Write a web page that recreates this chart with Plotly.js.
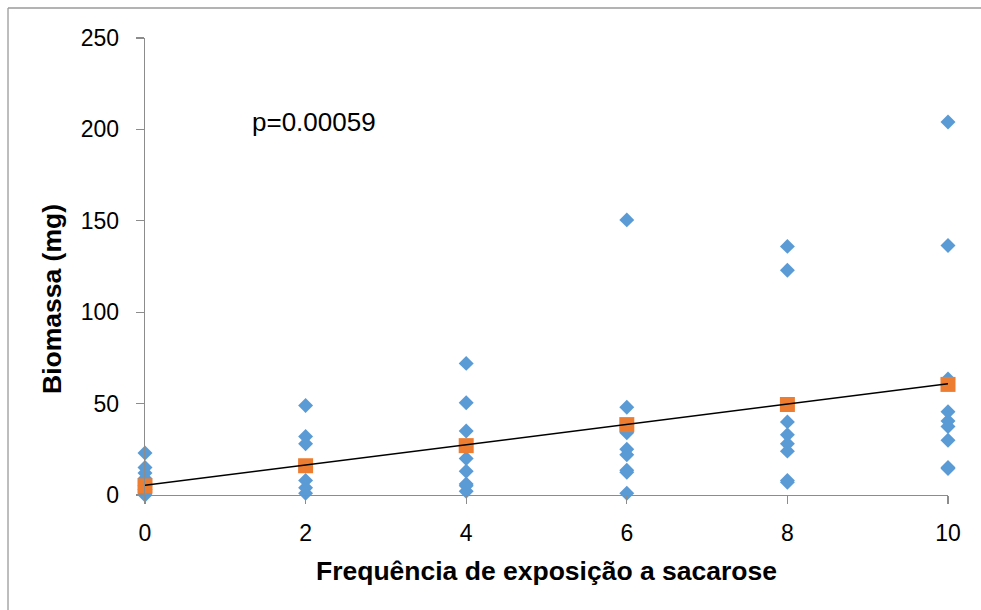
<!DOCTYPE html>
<html>
<head>
<meta charset="utf-8">
<script src="https://cdn.plot.ly/plotly-3.0.1.min.js"></script>
<style>
  html, body { margin: 0; padding: 0; background: #fff; }
  #chart { width: 981px; height: 610px; }
</style>
</head>
<body>
<div id="chart"></div>
<script>
// Raw observations (frequency of sucrose exposure vs biomass, mg)
const obsX = [
  0, 0, 0, 0, 0, 0, 0, 0,
  2, 2, 2, 2, 2, 2,
  4, 4, 4, 4, 4, 4, 4, 4,
  6, 6, 6, 6, 6, 6, 6, 6, 6,
  8, 8, 8, 8, 8, 8, 8, 8,
  10, 10, 10, 10, 10, 10, 10, 10, 10
];
const obsY = [
  23, 15, 12, 9, 5, 3, 1, 0,
  49, 32, 28, 8, 4, 1,
  72, 50.5, 35, 20, 13, 6, 5, 2,
  150.5, 48, 34, 25, 22, 13.5, 12.5, 1, 37,
  136, 123, 40, 33, 28, 24, 8, 7,
  204, 136.5, 63.5, 45.5, 40.5, 37.5, 30, 15, 14.5
];
// Group means
const meanX = [0, 2, 4, 6, 8, 10];
const meanY = [5, 16, 27, 38.5, 49.5, 60.5];
// Linear trend endpoints
const trendX = [0, 10];
const trendY = [5.3, 60.8];
const annotationText = "p=0.00059";
const xTitle = "Frequência de exposição a sacarose";
const yTitle = "Biomassa (mg)";

const traces = [
  {
    x: obsX, y: obsY, type: "scatter", mode: "markers",
    marker: { symbol: "diamond", size: 11.5, color: "#5B9BD5" },
    cliponaxis: false
  },
  {
    x: meanX, y: meanY, type: "scatter", mode: "markers",
    marker: { symbol: "square", size: 15, color: "#ED7D31" },
    cliponaxis: false
  },
  {
    x: trendX, y: trendY, type: "scatter", mode: "lines",
    line: { color: "#000000", width: 1.5 },
    cliponaxis: false
  }
];

const axisLine = "#8c8c8c";
const fam = "Liberation Sans, Arial, sans-serif";
const layout = {
  width: 981, height: 610,
  margin: { l: 145, r: 33, t: 38, b: 115 },
  paper_bgcolor: "#ffffff", plot_bgcolor: "#ffffff",
  showlegend: false,
  font: { family: fam, color: "#000" },
  xaxis: {
    range: [0, 10], tickvals: [0, 2, 4, 6, 8, 10], ticktext: ["0", "2", "4", "6", "8", "10"],
    showgrid: false, zeroline: false, showline: true, linecolor: axisLine, linewidth: 1.3,
    ticks: "outside", ticklen: 8, tickcolor: axisLine, tickwidth: 1.3,
    ticklabelstandoff: 9,
    tickfont: { size: 23, family: fam },
    title: { text: xTitle, font: { size: 26.5, family: fam, weight: "bold" }, standoff: 16 }
  },
  yaxis: {
    range: [0, 250], tickvals: [0, 50, 100, 150, 200, 250],
    showgrid: false, zeroline: false, showline: true, linecolor: axisLine, linewidth: 1.3,
    ticks: "outside", ticklen: 8, tickcolor: axisLine, tickwidth: 1.3,
    ticklabelstandoff: 12,
    tickfont: { size: 23, family: fam }
  },
  annotations: [
    {
      x: 1.31, y: 204, xref: "x", yref: "y", xanchor: "left", yanchor: "middle",
      text: annotationText, showarrow: false,
      font: { size: 26, family: fam, color: "#000" }
    },
    {
      x: -0.1158, y: 0.4289, xref: "paper", yref: "paper", xanchor: "center", yanchor: "middle",
      text: "<b>" + yTitle + "</b>", textangle: -90, showarrow: false,
      font: { size: 26.5, family: fam, color: "#000" }
    }
  ],
  shapes: [
    { type: "line", xref: "paper", yref: "paper", x0: -0.1706, x1: 1.2, y0: 1.0656, y1: 1.0656,
      line: { color: "#9a9a9a", width: 1.3 } },
    { type: "line", xref: "paper", yref: "paper", x0: -0.1706, x1: -0.1706, y0: 1.0656, y1: -0.4,
      line: { color: "#9a9a9a", width: 1.3 } }
  ]
};

Plotly.newPlot("chart", traces, layout, { displayModeBar: false, staticPlot: true });
</script>
</body>
</html>
